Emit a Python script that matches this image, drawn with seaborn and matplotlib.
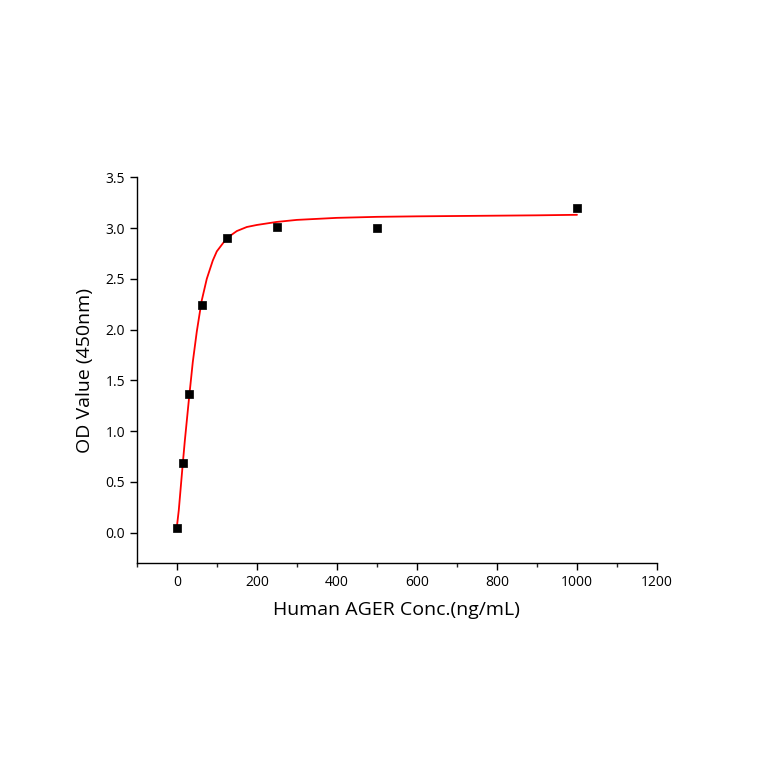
import matplotlib
matplotlib.use("Agg")
import matplotlib.pyplot as plt
import numpy as np
import pandas as pd
import seaborn as sns
from matplotlib.ticker import MultipleLocator

# measured standards
conc = [0, 15.6, 31.25, 62.5, 125, 250, 500, 1000]
od = [0.05, 0.69, 1.37, 2.24, 2.90, 3.01, 3.00, 3.20]

# fitted curve
fit_x = [0, 5, 10, 15, 20, 25, 30, 40, 50, 62, 75, 90, 100, 125, 150, 175, 200, 250, 300, 400, 500, 600, 750, 900, 1000]
fit_y = [0.05, 0.22, 0.45, 0.68, 0.90, 1.10, 1.30, 1.68, 1.98, 2.28, 2.50, 2.68, 2.77, 2.90, 2.97, 3.01, 3.03, 3.06, 3.08, 3.10, 3.11, 3.115, 3.12, 3.125, 3.13]

sns.set_theme(style="ticks")
plt.rcParams["font.family"] = ["Open Sans", "DejaVu Sans"]

fig = plt.figure(figsize=(7.64, 7.64), dpi=100)
ax = fig.add_axes([0.179, 0.263, 0.681, 0.505])

sns.lineplot(x=fit_x, y=fit_y, color="red", linewidth=1.3, ax=ax)
sns.scatterplot(x=conc, y=od, marker="s", color="black", s=40, edgecolor="black", ax=ax, zorder=3)

ax.set_xlim(-100, 1200)
ax.set_ylim(-0.3, 3.5)
ax.xaxis.set_major_locator(MultipleLocator(200))
ax.xaxis.set_minor_locator(MultipleLocator(100))
ax.yaxis.set_major_locator(MultipleLocator(0.5))
ax.yaxis.set_major_formatter(matplotlib.ticker.FormatStrFormatter("%.1f"))
ax.tick_params(which="major", direction="out", length=5, width=1, labelsize=10, colors="black")
ax.tick_params(which="minor", direction="out", length=3, width=1)
sns.despine(ax=ax)
for s in ["left", "bottom"]:
    ax.spines[s].set_color("black")
    ax.spines[s].set_linewidth(1)

ax.set_xlabel("Human AGER Conc.(ng/mL)", fontsize=14, labelpad=8, color="black")
ax.set_ylabel("OD Value (450nm)", fontsize=14, labelpad=8, color="black")

fig.savefig("out.png", dpi=100, facecolor="white")
